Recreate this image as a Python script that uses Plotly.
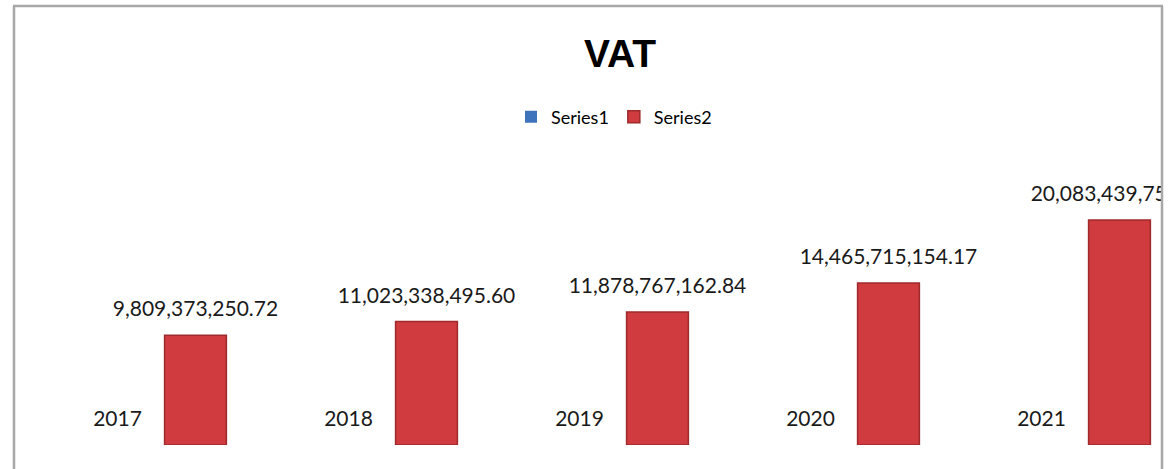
import plotly.graph_objects as go

categories = ["2017", "2018", "2019", "2020", "2021"]
series1 = [2017, 2018, 2019, 2020, 2021]
series2 = [9809373250.72, 11023338495.60, 11878767162.84, 14465715154.17, 20083439750.00]
series2_labels = ["9,809,373,250.72", "11,023,338,495.60", "11,878,767,162.84",
                  "14,465,715,154.17", "20,083,439,750.00"]
series1_labels = [str(v) for v in series1]

W, H = 1174, 469
ML, MR, MT, MB = 41, 13, 165, 24
CAT_PX = 231
pw = W - ML - MR
xmax = -0.5 + pw / CAT_PX

fig = go.Figure()
fig.add_trace(go.Bar(name="Series1", x=categories, y=series1,
                     marker=dict(color="#3E74BC", line=dict(width=0)),
                     offsetgroup="s1"))
fig.add_trace(go.Bar(name="Series2", x=categories, y=series2,
                     marker=dict(color="#CF3B3E", line=dict(color="#9E2A2C", width=1.5)),
                     offsetgroup="s2"))
# data labels
fig.add_trace(go.Scatter(x=categories, y=series1, text=series1_labels, mode="markers+text",
                         textposition="top center", showlegend=False, hoverinfo="skip",
                         marker=dict(size=20, opacity=0), offsetgroup="s1",
                         textfont=dict(family="Lato", size=21, color="#1a1a1a"), cliponaxis=True))
fig.add_trace(go.Scatter(x=categories, y=series2, text=series2_labels, mode="markers+text",
                         textposition="top center", showlegend=False, hoverinfo="skip",
                         marker=dict(size=20, opacity=0), offsetgroup="s2",
                         textfont=dict(family="Lato", size=21, color="#1a1a1a"), cliponaxis=True))

gx = lambda px: (px - ML) / pw
gy = lambda py: (H - MB - py) / (H - MT - MB)
line = dict(color="#A8A8A8", width=2.5)
fig.add_shape(type="line", xref="paper", yref="paper", x0=gx(13), x1=gx(1163), y0=gy(6), y1=gy(6), line=line)
fig.add_shape(type="line", xref="paper", yref="paper", x0=gx(14), x1=gx(14), y0=gy(6), y1=gy(469), line=line)
fig.add_shape(type="line", xref="paper", yref="paper", x0=gx(1162), x1=gx(1162), y0=gy(6), y1=gy(469), line=line)

fig.update_layout(
    width=W, height=H,
    margin=dict(l=ML, r=MR, t=MT, b=MB),
    paper_bgcolor="white", plot_bgcolor="white",
    barmode="group", bargap=0.325, bargroupgap=0.207,
    scattermode="group", scattergap=0.325,
    title=dict(text="<b>VAT</b>", x=620 / W, xanchor="center", xref="container",
               y=1 - 53 / H, yanchor="middle", yref="container",
               font=dict(family="Liberation Sans", size=39, color="black")),
    legend=dict(orientation="h", x=614 / W, xanchor="center", xref="container",
                y=1 - 117 / H, yanchor="middle", yref="container",
                font=dict(family="Lato", size=18, color="black"), traceorder="normal"),
    xaxis=dict(visible=False, range=[-0.5, xmax]),
    yaxis=dict(visible=False, range=[0, 25e9]),
    showlegend=True,
)

fig.write_html("out.html", config={"displayModeBar": False},
               post_script="document.body.style.margin='0';document.body.style.overflow='hidden';")
